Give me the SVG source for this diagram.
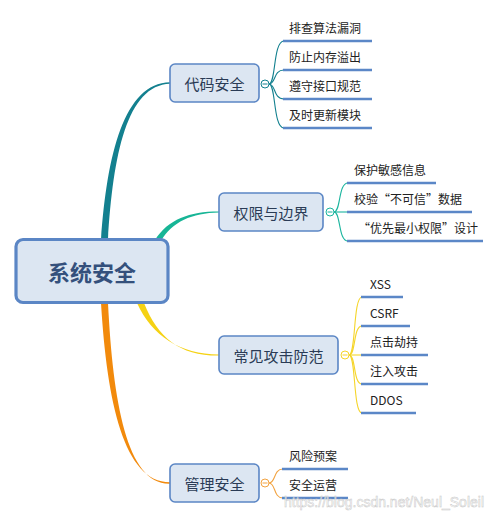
<svg xmlns="http://www.w3.org/2000/svg" width="500" height="517" viewBox="0 0 500 517">
<style>
.node{fill:#dce6f2;stroke:#5b86c5;stroke-width:1.6}
.root{fill:#dce6f2;stroke:#5b86c5;stroke-width:3.2}
.nt{font-family:"Noto Sans CJK SC","Microsoft YaHei",sans-serif;font-size:15px;fill:#2a3b55;text-anchor:middle;dominant-baseline:central}
.rt{font-family:"Noto Sans CJK SC",sans-serif;font-size:22px;font-weight:bold;fill:#34507c;text-anchor:middle;dominant-baseline:central}
.lt{font-family:"Noto Sans CJK SC","Liberation Sans",sans-serif;font-size:12px;fill:#222}
.ul{stroke:#5b87c7;stroke-width:2.6;fill:none}
.sub{fill:none;stroke-width:1.1}
.tog{fill:#fff;stroke-width:1}
.wm{font-family:"Liberation Sans",Arial,sans-serif;font-size:14px;fill:#ffffff;fill-opacity:0.7;stroke:#c8c8c8;stroke-width:0.5}
</style>
<rect width="500" height="517" fill="#ffffff"/>
<g id="connectors">
  <path d="M101 240 C107 155 124 83 170 82.3 L170 83.7 C127 85 113 155 108 240 Z" fill="#13808f"/>
  <path d="M155 240 C168 219 190 211.3 219 211.4 L219 212.6 C192 213 172 222 161 241 Z" fill="#17b596"/>
  <path d="M137 303 C152 336 180 354.4 219 354.4 L219 355.6 C180 356 158 338 144 303 Z" fill="#f5d214"/>
  <path d="M101 303 C107 402 124 482.3 170 482.3 L170 483.7 C127 485 113 402 108 303 Z" fill="#f28a0c"/>
  <g class="sub" stroke="#13808f">
    <path d="M269 84 C276 84 273 41 284 41"/>
    <path d="M269 84 C276 84 273 70 284 70"/>
    <path d="M269 84 C276 84 273 99 284 99"/>
    <path d="M269 84 C276 84 273 128 284 128"/>
  </g>
  <g class="sub" stroke="#1ab59e">
    <path d="M334 212 C341 212 338 183 348 183"/>
    <path d="M334 212 L348 212"/>
    <path d="M334 212 C341 212 338 241 348 241"/>
  </g>
  <g class="sub" stroke="#f5d52a">
    <path d="M349 355 C356 355 353 297 362 297"/>
    <path d="M349 355 C356 355 353 326 362 326"/>
    <path d="M349 355 L362 355"/>
    <path d="M349 355 C356 355 353 384 362 384"/>
    <path d="M349 355 C356 355 353 413 362 413"/>
  </g>
  <g class="sub" stroke="#f2a341">
    <path d="M269 483 C276 483 273 469 283 469"/>
    <path d="M269 483 C276 483 273 498 283 498"/>
  </g>
  <path class="ul" d="M283 41H372M283 70H372M283 99H372M283 128H372"/>
  <path class="ul" d="M347 183H436M347 212H472M347 241H483"/>
  <path class="ul" d="M361 297H403M361 326H410M361 355H428M361 384H428M361 413H416"/>
  <path class="ul" d="M282 469H348M282 498H348"/>
  <g class="tog"><circle cx="265" cy="84" r="4" stroke="#13808f"/><path d="M262.5 84H267.5" stroke="#13808f"/></g>
  <g class="tog"><circle cx="330" cy="212" r="4" stroke="#1ab59e"/><path d="M327.5 212H332.5" stroke="#1ab59e"/></g>
  <g class="tog"><circle cx="345" cy="355" r="4" stroke="#f5d52a"/><path d="M342.5 355H347.5" stroke="#f5d52a"/></g>
  <g class="tog"><circle cx="265" cy="483" r="4" stroke="#f2a341"/><path d="M262.5 483H267.5" stroke="#f2a341"/></g>
</g>
<g id="root"><rect class="root" x="16" y="239.5" width="152" height="63" rx="7"/><text class="rt" x="92" y="271">系统安全</text></g>
<g id="n1"><rect class="node" x="170" y="64" width="89" height="38" rx="5"/><text class="nt" x="214.5" y="83">代码安全</text></g>
<g id="n2"><rect class="node" x="219" y="193" width="104" height="38" rx="5"/><text class="nt" x="271" y="212">权限与边界</text></g>
<g id="n3"><rect class="node" x="219" y="336" width="119" height="38" rx="5"/><text class="nt" x="278.5" y="355">常见攻击防范</text></g>
<g id="n4"><rect class="node" x="170" y="464" width="89" height="38" rx="5"/><text class="nt" x="214.5" y="483">管理安全</text></g>
<g id="leaves1">
  <text class="lt" x="289" y="33">排查算法漏洞</text>
  <text class="lt" x="289" y="62">防止内存溢出</text>
  <text class="lt" x="289" y="91">遵守接口规范</text>
  <text class="lt" x="289" y="120">及时更新模块</text>
</g>
<g id="leaves2">
  <text class="lt" x="354" y="175">保护敏感信息</text>
  <text class="lt" x="354" y="204">校验“不可信”数据</text>
  <text class="lt" x="358" y="233">“优先最小权限”设计</text>
</g>
<g id="leaves3">
  <text class="lt" x="370" y="289">XSS</text>
  <text class="lt" x="370" y="318">CSRF</text>
  <text class="lt" x="370" y="347">点击劫持</text>
  <text class="lt" x="370" y="376">注入攻击</text>
  <text class="lt" x="370" y="405">DDOS</text>
</g>
<g id="leaves4">
  <text class="lt" x="289" y="461">风险预案</text>
  <text class="lt" x="289" y="490">安全运营</text>
</g>
<text class="wm" x="284" y="507">https://blog.csdn.net/Neul_Soleil</text>
</svg>
